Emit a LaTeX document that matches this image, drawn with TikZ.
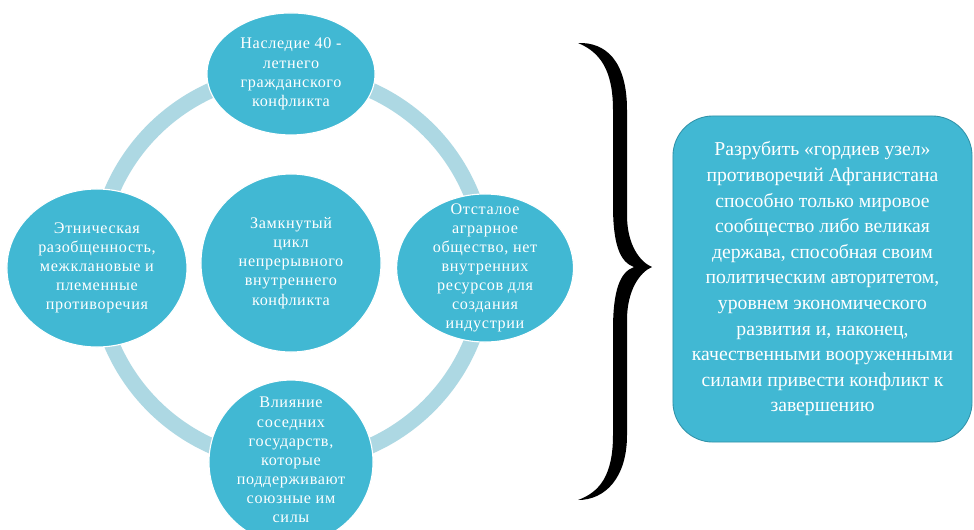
\documentclass[tikz,border=0pt]{standalone}
\usepackage{fontspec}
\setmainfont{Liberation Serif}
\newfontfamily\cycfont[LetterSpace=4]{Liberation Serif}
\usepackage{xcolor}
\usepackage{tikz}
\usetikzlibrary{shapes.geometric}
\usetikzlibrary{positioning}
\definecolor{cyclefill}{RGB}{65,184,211}
\definecolor{ringblue}{RGB}{173,216,227}
\definecolor{boxedge}{RGB}{48,146,168}

\begin{document}
\begin{tikzpicture}[x=0.025cm,y=-0.025cm,node distance=4.85cm]
  \tikzstyle{bubble}=[ellipse, fill=cyclefill, draw=white, line width=0.8pt, inner sep=0pt]
  \tikzstyle{cyc}=[text=white, align=center, inner sep=0pt, font=\cycfont\fontsize{11.5}{13.6}\selectfont]
  \tikzstyle{note}=[rectangle, rounded corners=1cm, fill=cyclefill, draw=boxedge, line width=0.6pt,
                    text=white, align=center, font=\fontsize{14}{18.2}\selectfont,
                    minimum width=7.475cm, minimum height=8.15cm]
  \useasboundingbox (0,0) rectangle (974,529);
  \clip (0,0) rectangle (974,529);
  \fill[white] (0,0) rectangle (974,529);

  % ring behind the cycle
  \coordinate (mid) at (291,268);
  \draw[ringblue, line width=0.39cm] (mid) circle (4.87cm);

  \node[bubble, minimum width=4.5cm, minimum height=4.45cm] (ctr) at (291,263) {};
  \node[bubble, minimum width=4.2cm, minimum height=3.05cm] (top) [above of=mid] {};
  \node[bubble, minimum width=4.5cm, minimum height=3.95cm] (lft) [left of=mid] {};
  \node[bubble, minimum width=4.42cm, minimum height=3.7cm] (rgt) [right of=mid] {};
  \node[bubble, minimum width=4.1cm, minimum height=4.1cm] (bot) [below of=mid] {};

  \node[cyc] (ctr-t) at (ctr) {Замкнутый\\цикл\\непрерывного\\внутреннего\\конфликта};
  \node[cyc] (top-t) at (top) {Наследие 40 -\\летнего\\гражданского\\конфликта};
  \node[cyc] (lft-t) at (lft) {Этническая\\разобщенность,\\межклановые и\\племенные\\противоречия};
  \node[cyc] (rgt-t) at (rgt) {Отсталое\\аграрное\\общество, нет\\внутренних\\ресурсов для\\создания\\индустрии};
  \node[cyc, yshift=0.05cm] (bot-t) at (bot) {Влияние\\соседних\\государств,\\которые\\поддерживают\\союзные им\\силы};

  % brace
  \fill (578,43) .. controls (605,42) and (627,60) .. (627,110) -- (627,215)
    .. controls (627,245) and (640,262) .. (652,267)
    .. controls (640,272) and (627,290) .. (627,320) -- (627,435)
    .. controls (627,478) and (605,500) .. (578,500)
    .. controls (600,492) and (613,475) .. (613,435) -- (613,330)
    .. controls (613,290) and (620,272) .. (634,267)
    .. controls (620,262) and (613,245) .. (613,205) -- (613,110)
    .. controls (613,70) and (600,52) .. (578,43) -- cycle;

  \node[note] (verdict) at (822.5,279) {Разрубить «гордиев узел»\\противоречий Афганистана\\способно только мировое\\сообщество либо великая\\держава, способная своим\\политическим авторитетом,\\уровнем экономического\\развития и, наконец,\\качественными вооруженными\\силами привести конфликт к\\завершению};
\end{tikzpicture}
\end{document}
